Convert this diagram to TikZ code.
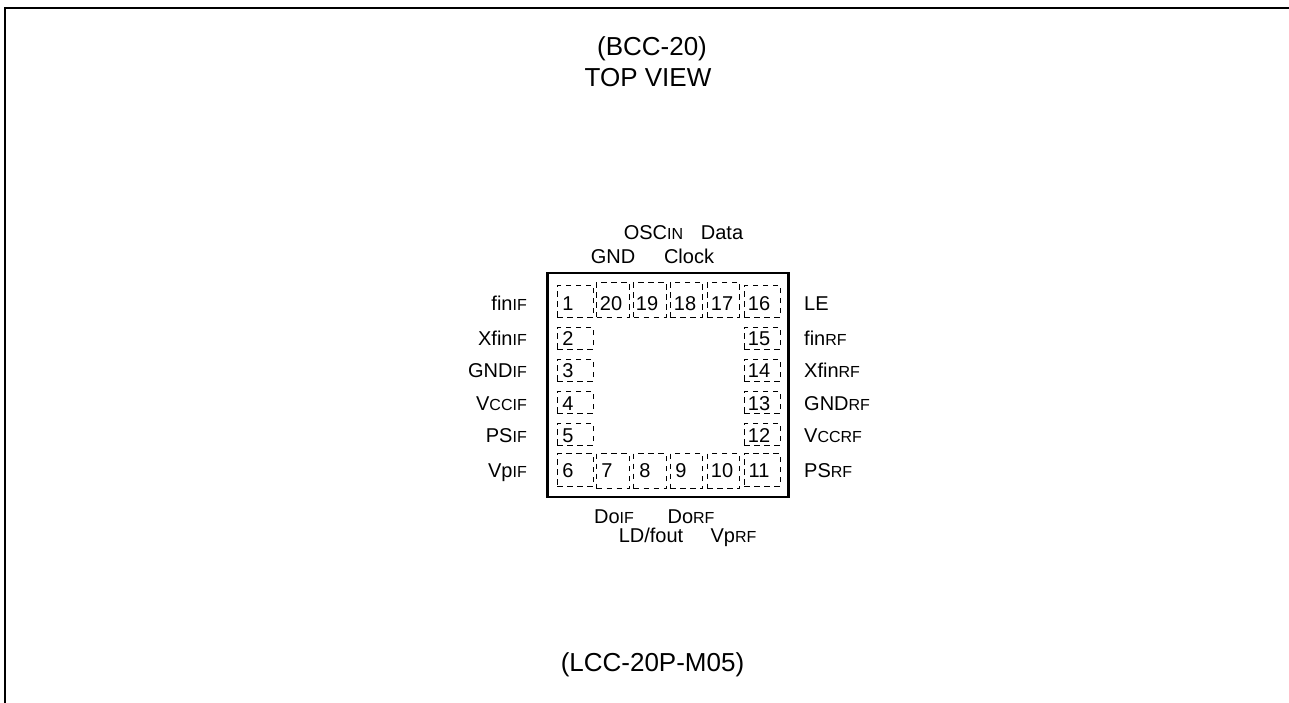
\documentclass[tikz,border=0pt]{standalone}
\usepackage{fontspec}
\setmainfont{Liberation Sans}
\newcommand{\smt}[1]{{\fontsize{16}{18}\selectfont #1}}
\newcommand{\pinbox}[5]{% name, x1, y1, x2, y2
  \node[pindash, minimum width=#4-#2, minimum height=#5-#3] (b#1) at ({(#2+#4)/2},{(#3+#5)/2}) {};}
\newcommand{\pinnum}[3]{\node[numtext] (n#1) at (#2,#3) {#1};}
\tikzset{
  pindash/.style={draw, dash pattern=on 5.5pt off 4.5pt, line width=1pt, inner sep=0pt, outer sep=0pt},
  numtext/.style={font=\fontsize{20}{22}\selectfont, inner sep=0pt, anchor=base},
  lab/.style={font=\fontsize{20}{22}\selectfont, inner sep=0pt},
  leftlab/.style={lab, anchor=base east},
  rightlab/.style={lab, anchor=base west},
  midlab/.style={lab, anchor=base},
  title/.style={font=\fontsize{26}{30}\selectfont, inner sep=0pt, anchor=base},
  frameline/.style={line width=2.2pt, line cap=butt},
  pkg/.style={draw, line width=2.8pt, inner sep=0pt, outer sep=0pt}
}
\begin{document}
\begin{tikzpicture}[x=1pt,y=-1pt]
\useasboundingbox (0,0) rectangle (1289,703);
\coordinate (fa) at (5.3,703);
\coordinate (fb) at (5.3,8);
\coordinate (fc) at (1289,8);
\draw[frameline] (fa) -- (fb) -- (fc);
\node[title] (t1) at (652,56) {(BCC-20)};
\node[title] (t2) at (648,87) {TOP VIEW};
\node[title] (t3) at (652.5,671) {(LCC-20P-M05)};
\node[pkg, minimum width=241, minimum height=224] (pkgbox) at (668.3,385) {};
\pinbox{1}{557}{285}{593}{317}
\pinbox{20}{596.5}{282}{629}{317}
\pinbox{19}{633.5}{282}{666}{317}
\pinbox{18}{670}{282}{702.5}{317}
\pinbox{17}{707}{282}{739.5}{317}
\pinbox{16}{744}{285}{780}{317}
\pinbox{2}{557}{327}{593}{349}
\pinbox{3}{557}{359}{593}{381}
\pinbox{4}{557}{391}{593}{413}
\pinbox{5}{557}{423}{593}{445}
\pinbox{15}{744}{327}{780}{349}
\pinbox{14}{744}{359}{780}{381}
\pinbox{13}{744}{391}{780}{413}
\pinbox{12}{744}{423}{780}{445}
\pinbox{6}{557}{453.5}{593}{486}
\pinbox{7}{596.5}{453.5}{629}{488.5}
\pinbox{8}{633.5}{453.5}{666}{488.5}
\pinbox{9}{670}{453.5}{702.5}{488.5}
\pinbox{10}{707}{453.5}{739.5}{488.5}
\pinbox{11}{744}{453.5}{780}{486}
\pinnum{1}{568}{310}
\pinnum{20}{611}{310}
\pinnum{19}{647}{310}
\pinnum{18}{685}{310}
\pinnum{17}{722}{310}
\pinnum{16}{759}{310}
\pinnum{2}{568}{345}
\pinnum{3}{568}{377}
\pinnum{4}{568}{410}
\pinnum{5}{568}{442}
\pinnum{15}{759}{345}
\pinnum{14}{759}{377}
\pinnum{13}{759}{410}
\pinnum{12}{759}{442}
\pinnum{6}{568}{477}
\pinnum{7}{607}{477}
\pinnum{8}{645}{477}
\pinnum{9}{681}{477}
\pinnum{10}{722}{477}
\pinnum{11}{759}{477}
\node[leftlab] (l1) at (527,310) {fin\smt{IF}};
\node[leftlab] (l2) at (527,345) {Xfin\smt{IF}};
\node[leftlab] (l3) at (527,377) {GND\smt{IF}};
\node[leftlab] (l4) at (527,410) {V\smt{CCIF}};
\node[leftlab] (l5) at (527,442) {PS\smt{IF}};
\node[leftlab] (l6) at (527,477) {Vp\smt{IF}};
\node[rightlab] (r1) at (804,310) {LE};
\node[rightlab] (r2) at (804,345) {fin\smt{RF}};
\node[rightlab] (r3) at (804,377) {Xfin\smt{RF}};
\node[rightlab] (r4) at (804,410) {GND\smt{RF}};
\node[rightlab] (r5) at (804,442) {V\smt{CCRF}};
\node[rightlab] (r6) at (804,477) {PS\smt{RF}};
\node[midlab] (u1) at (613,263) {GND};
\node[midlab] (u2) at (689,263) {Clock};
\node[midlab] (u3) at (653.5,240) {OSC\smt{IN}};
\node[midlab] (u4) at (722,240) {Data};
\node[midlab] (d1) at (614,523) {Do\smt{IF}};
\node[midlab] (d2) at (691,523) {Do\smt{RF}};
\node[midlab] (d3) at (651,542) {LD/fout};
\node[midlab] (d4) at (733.5,542) {Vp\smt{RF}};
\end{tikzpicture}
\end{document}
